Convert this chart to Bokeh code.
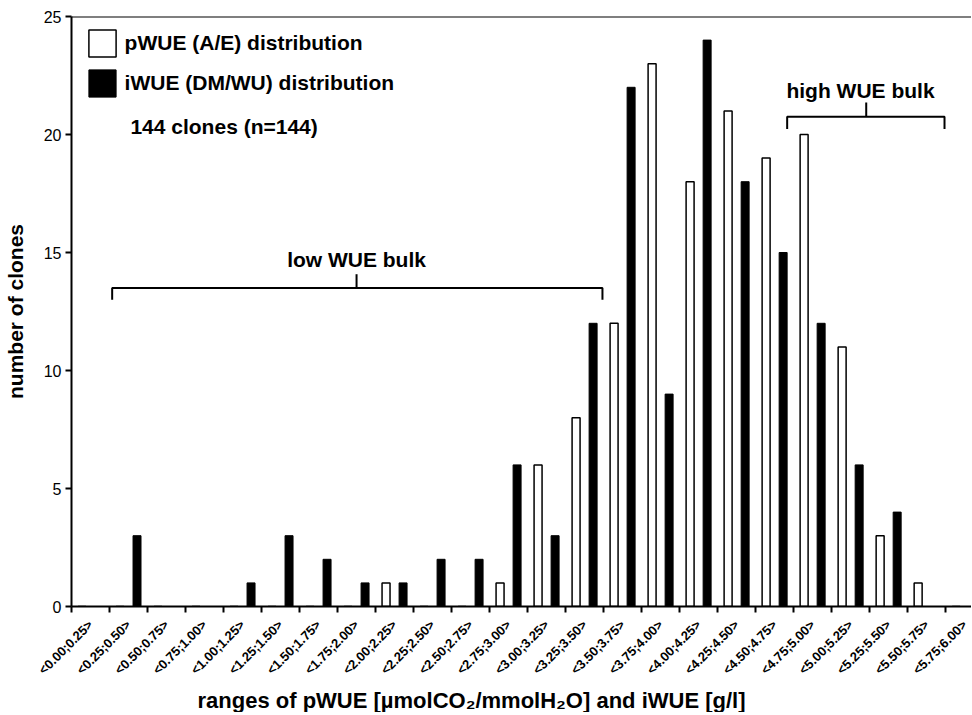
import math
from bokeh.plotting import figure
from bokeh.models import (ColumnDataSource, FixedTicker, Range1d, Span,
                          Legend, LegendItem, Label, Title)
from bokeh.transform import dodge
from bokeh.embed import file_html
from bokeh.resources import INLINE

# ---- data ----
categories = ["<0.00;0.25>", "<0.25;0.50>", "<0.50;0.75>", "<0.75;1.00>",
              "<1.00;1.25>", "<1.25;1.50>", "<1.50;1.75>", "<1.75;2.00>",
              "<2.00;2.25>", "<2.25;2.50>", "<2.50;2.75>", "<2.75;3.00>",
              "<3.00;3.25>", "<3.25;3.50>", "<3.50;3.75>", "<3.75;4.00>",
              "<4.00;4.25>", "<4.25;4.50>", "<4.50;4.75>", "<4.75;5.00>",
              "<5.00;5.25>", "<5.25;5.50>", "<5.50;5.75>", "<5.75;6.00>"]
pwue = [0, 0, 0, 0, 0, 0, 0, 0, 1, 0, 0, 1, 6, 8, 12, 23, 18, 21, 19, 20, 11, 3, 1, 0]
iwue = [0, 3, 0, 0, 1, 3, 2, 1, 1, 2, 2, 6, 3, 12, 22, 9, 24, 18, 15, 12, 6, 4, 0, 0]
y_ticks = [0, 5, 10, 15, 20, 25]

FONT = "Liberation Sans"

src = ColumnDataSource(dict(x=list(range(len(categories))), pwue=pwue, iwue=iwue))

p = figure(frame_width=900, frame_height=590, output_backend="svg",
           toolbar_location=None, title=None,
           x_range=Range1d(-0.5, 23.18), y_range=Range1d(0, 25),
           min_border_left=69, min_border_right=0, min_border_top=16,
           min_border_bottom=0)
p.grid.grid_line_color = None
p.outline_line_color = None
p.background_fill_color = "white"
p.border_fill_color = "white"

r_w = p.vbar(x=dodge("x", -0.224, range=p.x_range), top="pwue", width=0.21,
             source=src, fill_color="white", line_color="black", line_width=1.5)
r_b = p.vbar(x=dodge("x", 0.224, range=p.x_range), top="iwue", width=0.21,
             source=src, fill_color="black", line_color="black", line_width=1)

# x axis
xa = p.xaxis[0]
xa.ticker = FixedTicker(ticks=list(range(len(categories))),
                        minor_ticks=[i - 0.5 for i in range(len(categories) + 1)])
xa.major_label_overrides = {i: c for i, c in enumerate(categories)}
xa.major_label_orientation = math.pi / 4
xa.major_tick_line_color = None
xa.major_tick_out = 0
xa.major_tick_in = 0
xa.minor_tick_out = 6
xa.minor_tick_in = 0
xa.minor_tick_line_width = 2
xa.minor_tick_line_color = "black"
xa.axis_line_width = 2
xa.axis_line_color = "black"
xa.major_label_standoff = 10
xa.major_label_text_font = FONT
xa.major_label_text_font_style = "bold"
xa.major_label_text_font_size = "13px"
xa.major_label_text_color = "black"
xa.axis_label = None
xa.axis_label_standoff = 0

# y axis
ya = p.yaxis[0]
ya.ticker = FixedTicker(ticks=y_ticks)
ya.major_tick_out = 6
ya.major_tick_in = 0
ya.major_tick_line_width = 2
ya.minor_tick_line_color = None
ya.axis_line_width = 2
ya.major_label_standoff = 4
ya.major_label_text_font = FONT
ya.major_label_text_font_size = "16px"
ya.major_label_text_color = "black"
ya.axis_label = "number of clones"
ya.axis_label_text_font = FONT
ya.axis_label_text_font_style = "bold"
ya.axis_label_text_font_size = "21px"
ya.axis_label_text_color = "black"
ya.axis_label_standoff = 14

# top frame line
p.add_layout(Span(location=25, dimension="width", line_color="black", line_width=2))

# x title
p.add_layout(Title(text="ranges of pWUE [µmolCO₂/mmolH₂O] and iWUE [g/l]",
                   align="left", offset=126, text_font=FONT,
                   text_font_style="bold", text_font_size="22px",
                   text_color="black", standoff=0), "below")

# legend
legend = Legend(items=[LegendItem(label="pWUE (A/E) distribution", renderers=[r_w]),
                       LegendItem(label="iWUE (DM/WU) distribution", renderers=[r_b])],
                location=(13.6, 506), glyph_width=34, glyph_height=34,
                label_text_font=FONT, label_text_font_style="bold",
                label_text_font_size="21px", label_text_color="black",
                label_standoff=6, spacing=6,
                padding=0, margin=0, border_line_color=None,
                background_fill_alpha=0)
p.add_layout(legend)

p.add_layout(Label(x=1.05, y=20.33, text="144 clones (n=144)", text_font=FONT,
                   text_font_style="bold", text_font_size="21px",
                   text_baseline="middle", text_color="black"))

# brackets
p.multi_line(xs=[[0.57, 0.57, 13.47, 13.47], [7.0, 7.0],
                 [18.33, 18.33, 22.47, 22.47], [20.41, 20.41]],
             ys=[[13.0, 13.5, 13.5, 13.0], [13.5, 14.08],
                 [20.23, 20.75, 20.75, 20.23], [20.75, 21.36]],
             line_color="black", line_width=2)
p.add_layout(Label(x=7.0, y=14.69, text="low WUE bulk", text_font=FONT,
                   text_font_style="bold", text_font_size="21px",
                   text_align="center", text_baseline="middle",
                   text_color="black"))
p.add_layout(Label(x=20.26, y=21.86, text="high WUE bulk", text_font=FONT,
                   text_font_style="bold", text_font_size="21px",
                   text_align="center", text_baseline="middle",
                   text_color="black"))

open("out.html", "w").write(file_html(p, INLINE))
